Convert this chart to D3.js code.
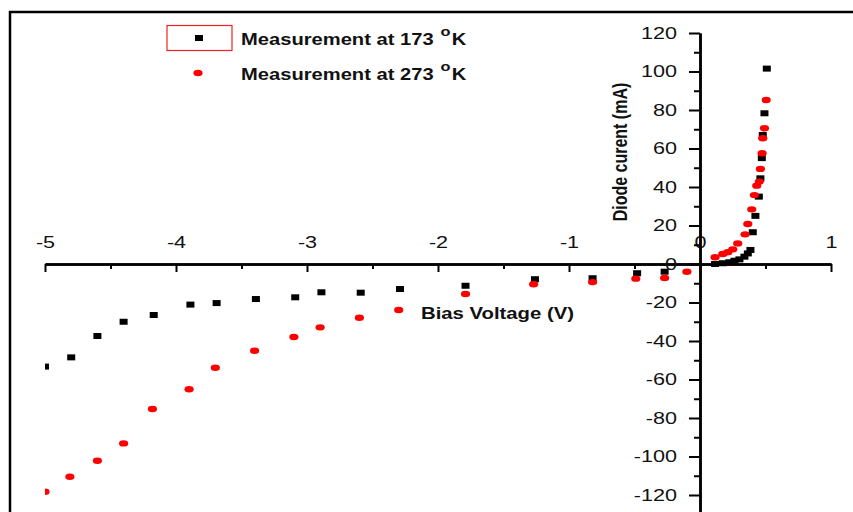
<!DOCTYPE html>
<html>
<head>
<meta charset="utf-8">
<script src="https://cdn.jsdelivr.net/npm/d3@7/dist/d3.min.js"></script>
<style>
  body { margin: 0; background: #fff; }
  svg { display: block; font-family: Arial, "Liberation Sans", sans-serif; }
</style>
</head>
<body>
<svg id="chart" width="853" height="512"></svg>
<script>
// measurement at 173 K (bias voltage V, diode current mA)
const volts173 = [-5.0, -4.8, -4.6, -4.4, -4.17, -3.89, -3.69, -3.39, -3.09, -2.89, -2.59, -2.29,
                  -1.79, -1.26, -0.82, -0.48, -0.27,
                  0.115, 0.174, 0.224, 0.263, 0.301, 0.339, 0.365, 0.385, 0.403, 0.423, 0.449,
                  0.461, 0.472, 0.479, 0.492, 0.51];
const current173 = [-53.3, -48.5, -37.4, -30, -26.5, -21.1, -20.3, -18.2, -17.3, -14.7, -14.9, -13,
                    -11.3, -7.9, -7.4, -4.8, -4.0,
                    0, 0.4, 0.9, 1.7, 2.4, 3.8, 5.5, 7.3, 16.5, 25, 35,
                    44.5, 55, 67, 78.3, 101.5];

// measurement at 273 K
const volts273 = [-5.0, -4.81, -4.6, -4.4, -4.18, -3.9, -3.7, -3.4, -3.1, -2.9, -2.6, -2.3,
                  -1.79, -1.27, -0.82, -0.49, -0.27, -0.1,
                  0.115, 0.174, 0.212, 0.25, 0.288, 0.344, 0.365, 0.395, 0.415, 0.433, 0.453,
                  0.461, 0.474, 0.479, 0.492, 0.505];
const current273 = [-118.3, -110.5, -102.2, -93.2, -75.3, -65.1, -53.9, -45.1, -37.9, -32.9, -27.9, -23.9,
                    -15.6, -10.5, -9.4, -7.6, -7.3, -4.0,
                    3.5, 5.2, 6.1, 7.6, 10.7, 15.4, 20.8, 28.4, 35.8, 40.7, 42.8,
                    49.4, 57.5, 65.3, 70.5, 85.2];

const xTicks = [-5, -4, -3, -2, -1, 0, 1];
const xMinor = [-4.5, -3.5, -2.5, -1.5, -0.5, 0.5];
const yTicks = d3.range(-120, 121, 20);
const yMinor = d3.range(-130, 121, 20);

const legendLabels = ["Measurement at 173 ", "Measurement at 273 "];
const xTitle = "Bias Voltage (V)";
const yTitle = "Diode curent (mA)";

const svg = d3.select("#chart");
const ink = "#111";
const plain = d => String(d);   // short hyphen minus, like the original

let x = d3.scaleLinear().domain([-5, 1]).range([45, 831]);
let y = d3.scaleLinear().domain([-130, 120]).range([514.25, 33]);

// outer frame (cut by the picture edges)
svg.append("rect")
   .attr("x", 10).attr("y", 12)
   .attr("width", 900).attr("height", 600)
   .attr("fill", "none").attr("stroke", "#000").attr("stroke-width", 2.5);

// x axis: ticks hang below the line, labels sit above it
let gx = svg.append("g").attr("transform", `translate(0,${y(0)})`);
gx.call(d3.axisTop(x).tickValues(xTicks).tickFormat(plain)
          .tickSizeInner(-8).tickSizeOuter(0).tickPadding(16));
gx.append("g").call(d3.axisTop(x).tickValues(xMinor).tickSizeInner(-5).tickSizeOuter(0).tickFormat(""));
gx.selectAll("text")
  .attr("y", null)
  .attr("transform", "translate(0,-16) scale(1.35,1)");

// y axis
let gy = svg.append("g").attr("transform", `translate(${x(0)},0)`);
gy.call(d3.axisLeft(y).tickValues(yTicks).tickFormat(plain)
          .tickSizeInner(11).tickSizeOuter(0).tickPadding(11));
gy.append("g").call(d3.axisLeft(y).tickValues(yMinor).tickSizeInner(6).tickSizeOuter(0).tickFormat(""));
gy.selectAll("text")
  .attr("x", null)
  .attr("transform", "translate(-23,0) scale(1.35,1)");

svg.selectAll(".domain").attr("stroke", "#000").attr("stroke-width", 2.5);
svg.selectAll(".tick line").attr("stroke", "#000").attr("stroke-width", 2);
svg.selectAll(".tick text")
   .attr("fill", ink)
   .style("font-size", "16px")
   .style("font-family", "Arial, 'Liberation Sans', sans-serif");

// points, clipped to the plotting area
svg.append("clipPath").attr("id", "plot-clip")
   .append("rect").attr("x", x(-5)).attr("y", 20).attr("width", x(1) - x(-5)).attr("height", 500);

let pts = svg.append("g").attr("clip-path", "url(#plot-clip)");

let data173 = volts173.map((v, i) => ({v: v, c: current173[i]}));
let data273 = volts273.map((v, i) => ({v: v, c: current273[i]}));

pts.selectAll("rect.p173")
   .data(data173)
   .enter()
   .append("rect")
   .attr("class", "p173")
   .attr("x", d => x(d.v) - 4)
   .attr("y", d => y(d.c) - 3)
   .attr("width", 8).attr("height", 6)
   .attr("fill", "#000");

pts.selectAll("ellipse.p273")
   .data(data273)
   .enter()
   .append("ellipse")
   .attr("class", "p273")
   .attr("cx", d => x(d.v))
   .attr("cy", d => y(d.c))
   .attr("rx", 4.6).attr("ry", 3.2)
   .attr("fill", "#f00");

// axis titles
svg.append("text")
   .attr("transform", "translate(421,319) scale(1.27,1)")
   .attr("fill", ink)
   .style("font-size", "16px").style("font-weight", "bold")
   .text(xTitle);

svg.append("text")
   .attr("transform", "translate(627,152) rotate(-90) scale(1,1.27)")
   .attr("text-anchor", "middle")
   .attr("fill", ink)
   .style("font-size", "16px").style("font-weight", "bold")
   .text(yTitle);

// legend
svg.append("rect")
   .attr("x", 167).attr("y", 25.5).attr("width", 65).attr("height", 25)
   .attr("fill", "none").attr("stroke", "#e22").attr("stroke-width", 1.2);
svg.append("rect").attr("x", 195).attr("y", 35).attr("width", 8).attr("height", 6).attr("fill", "#000");
svg.append("ellipse").attr("cx", 198).attr("cy", 73).attr("rx", 4.6).attr("ry", 3.2).attr("fill", "#f00");

legendLabels.forEach(function(label, i){
    let t = svg.append("text")
               .attr("transform", `translate(241,${45 + i * 35}) scale(1.26,1)`)
               .attr("fill", ink)
               .style("font-size", "16px").style("font-weight", "bold");
    t.append("tspan").text(label);
    t.append("tspan").attr("dx", 1).attr("dy", -9).style("font-size", "13px").text("o");
    t.append("tspan").attr("dx", 1).attr("dy", 9).text("K");
});
</script>
</body>
</html>
